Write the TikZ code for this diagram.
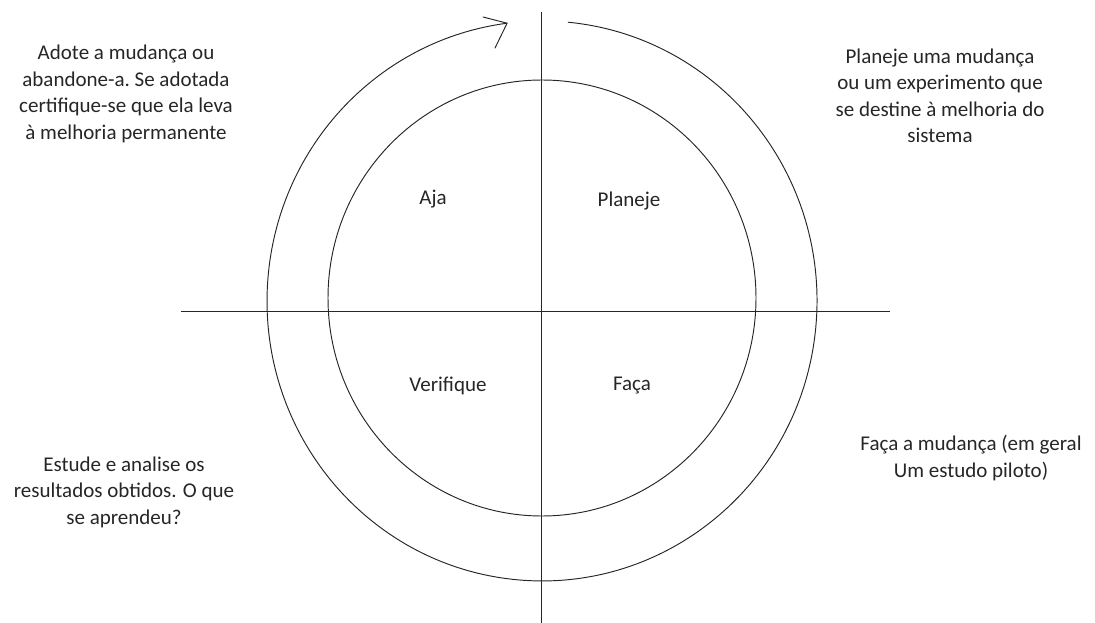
\documentclass[tikz,border=0pt]{standalone}
\usepackage{fontspec}
\setmainfont{Carlito}
\begin{document}
\begin{tikzpicture}[x=1pt,y=-1pt,
  line/.style={draw=black!85,line width=0.95pt},
  note/.style={align=center,font=\fontsize{21}{26.5}\selectfont,text=black!85,inner sep=0pt},
  quad/.style={font=\fontsize{21}{24}\selectfont,text=black!85,inner sep=0pt}]
\useasboundingbox (0,0) rectangle (1095,623);
% axes
\coordinate (vtop) at (541,12);
\coordinate (vbot) at (541,623);
\coordinate (hleft) at (181,311);
\coordinate (hright) at (890,311);
\draw[line] (vtop) -- (vbot);
\draw[line] (hleft) -- (hright);
% inner circle
\coordinate (c) at (542,298);
\draw[line] (c) ellipse [x radius=214, y radius=218];
% outer cycle arc
\coordinate (oc) at (542,301);
\coordinate (arcstart) at (567.9,22.2);
\draw[line] (arcstart) arc[start angle=-84.6, end angle=262.7, x radius=275, y radius=280] coordinate (tip);
\coordinate (barbA) at (483,17);
\coordinate (barbB) at (495,48);
\draw[line,line cap=round] (barbA) -- (tip) -- (barbB);
% quadrant labels
\node[quad] (aja) at (433,199) {Aja};
\node[quad] (planeje) at (629,201) {Planeje};
\node[quad] (verifique) at (448,386) {Verifique};
\node[quad] (faca) at (632,386) {Faça};
% notes
\node[note] (tl) at (126,94) {Adote a mudança ou\\abandone-a.\ Se adotada\\certifique-se\ que ela leva\\à melhoria permanente};
\node[note] (tr) at (940,96) {Planeje uma mudança\\ou um experimento\ que\\se destine à melhoria do\\sistema};
\node[note] (bl) at (124,492) {Estude e analise os\\resultados obtidos. O que\\se aprendeu?};
\node[note] (br) at (971,458) {Faça a mudança (em geral\\Um estudo piloto)};
\end{tikzpicture}
\end{document}
